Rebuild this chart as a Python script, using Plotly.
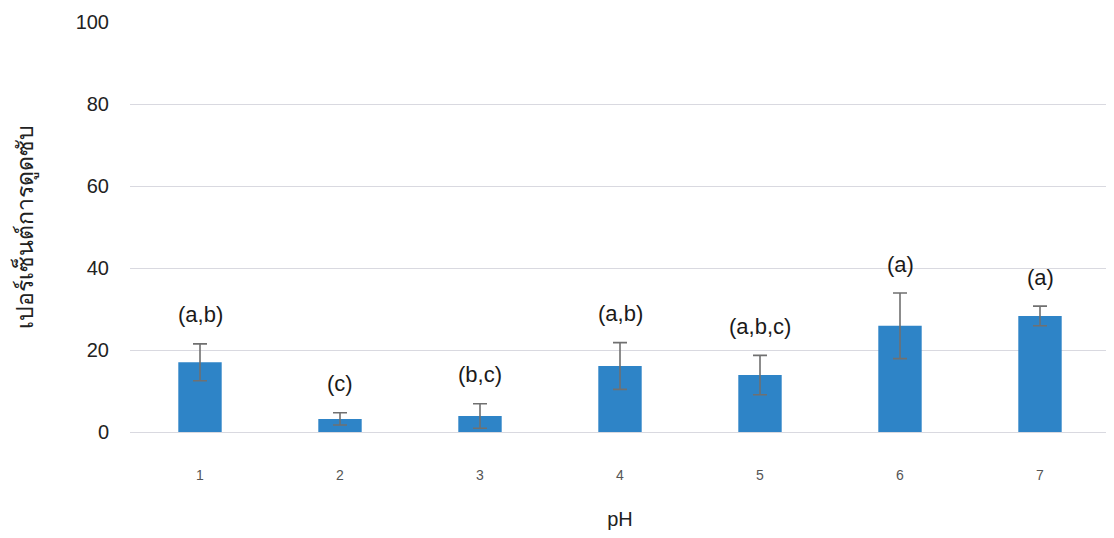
import plotly.graph_objects as go

categories = ["1", "2", "3", "4", "5", "6", "7"]
values = [17.0, 3.2, 3.9, 16.1, 13.9, 25.9, 28.3]
errors = [4.5, 1.5, 3.0, 5.7, 4.8, 8.0, 2.4]
labels = ["(a,b)", "(c)", "(b,c)", "(a,b)", "(a,b,c)", "(a)", "(a)"]
y_ticks = [0, 20, 40, 60, 80, 100]

FONT = "Liberation Sans, Arial, sans-serif"

fig = go.Figure()
fig.add_trace(go.Bar(
    x=categories,
    y=values,
    width=0.31,
    marker=dict(color="#2E84C7", line=dict(width=0)),
    error_y=dict(type="data", array=errors, visible=True,
                 color="#707070", thickness=1.6, width=7),
))

for i, (v, e, t) in enumerate(zip(values, errors, labels)):
    fig.add_annotation(x=i, y=v + e, text=t, showarrow=False,
                       yanchor="middle", yshift=29,
                       font=dict(family=FONT, size=22, color="#1a1a1a"))

fig.update_layout(
    width=1106, height=530,
    margin=dict(l=122, r=4, t=14, b=106),
    plot_bgcolor="white", paper_bgcolor="white",
    showlegend=False,
    bargap=0.69,
    xaxis=dict(
        type="category",
        automargin=False,
        tickfont=dict(family=FONT, size=14, color="#555555"),
        ticks="outside", ticklen=30, tickcolor="rgba(0,0,0,0)",
        showgrid=False, showline=False, zeroline=False,
        title=dict(text="pH", font=dict(family=FONT, size=20, color="#222222"), standoff=30),
    ),
    yaxis=dict(
        range=[0, 100],
        automargin=False,
        tickvals=y_ticks,
        tickfont=dict(family=FONT, size=20, color="#222222"),
        ticks="outside", ticklen=16, tickcolor="rgba(0,0,0,0)",
        showgrid=True, gridcolor="#d9d9e0", gridwidth=1,
        zeroline=True, zerolinecolor="#d9d9e0", zerolinewidth=1,
        showline=False,
        title=dict(text="เปอร์เซ็นต์การดูดซับ",
                   font=dict(family="Noto Sans, DejaVu Sans, sans-serif", size=23, color="#222222"),
                   standoff=40),
    ),
)

fig.write_html("out.html")
